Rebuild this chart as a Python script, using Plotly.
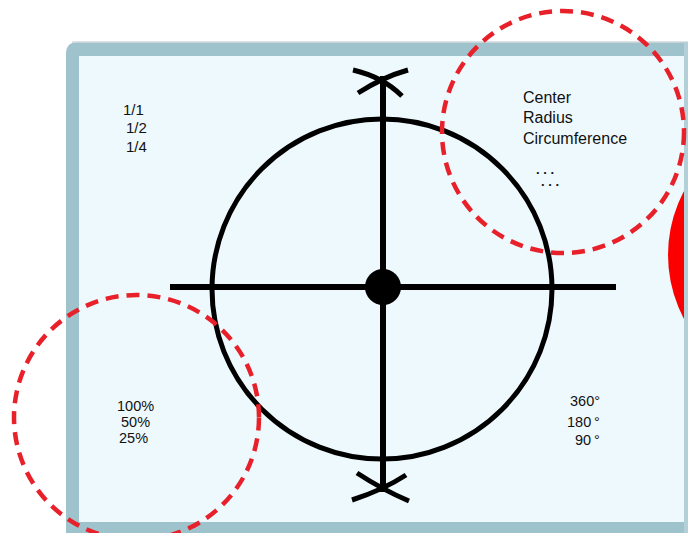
import plotly.graph_objects as go

W, H = 688, 533      # browser window

# ---- diagram content (labels) ----
frac_labels = ["1/1", "1/2", "1/4"]
pct_labels = ["100%", "50%", "25%"]
deg_labels = ["360°", "180\u2009°", "90\u2009°"]
term_labels = ["Center", "Radius", "Circumference"]
dots_labels = ["<b>. . .</b>", "<b>. . .</b>"]

# ---- geometry in page units (axis units = pixels, y down) ----
main_circle = (382, 289, 170)          # cx, cy, r
dash_circles = [(563, 132, 121), (136.5, 417.5, 122.5)]
red_disc = (804, 255, 136)
h_axis_x = [170, 616]
h_axis_y = [287, 287]
v_axis_x = [383, 383]
v_axis_y = [76, 492]
center_dot = (383, 287, 18)
top_x_arms = [[(353, 70), (383, 77), (402, 96)], [(408, 70), (383, 77), (358, 93)]]
bot_x_arms = [[(357, 473), (383, 490), (409, 501)], [(406, 475), (383, 490), (352, 500)]]

frac_pos = [(133, 109), (136, 127.5), (136, 146)]
pct_pos = [(135.5, 405.5), (135, 422), (133, 437.5)]
deg_pos_right = [(602, 400.5), (602, 422), (602, 440)]
term_pos_left = [(521, 97.5), (521, 117.5), (521, 138)]
dots_pos = [(545, 169), (550, 181)]

FONT = "Arial, Liberation Sans, sans-serif"
RED = "#e8202a"

fig = go.Figure()
fig.add_trace(go.Scatter(x=[0, W], y=[0, H], mode="markers",
                         marker=dict(opacity=0), hoverinfo="skip"))

shapes = []
# panel border and fill
shapes.append(dict(type="path", path="M 66,54 Q 66,42 78,42 L 720,42 L 720,560 L 66,560 Z",
                   fillcolor="#9ec3cd", line=dict(width=0)))
shapes.append(dict(type="line", x0=72, y0=42, x1=690, y1=42, line=dict(color="#d3d9db", width=1.5)))
shapes.append(dict(type="rect", x0=79, y0=56, x1=684, y1=522,
                   fillcolor="#eef9fd", line=dict(width=0)))
# red disc on the right
cx, cy, r = red_disc
shapes.append(dict(type="circle", x0=cx - r, y0=cy - r, x1=cx + r, y1=cy + r,
                   fillcolor="#fb0000", line=dict(width=0)))
shapes.append(dict(type="rect", x0=684, y0=42, x1=720, y1=560,
                   fillcolor="#b3d0d8", line=dict(width=0)))
# main circle
cx, cy, r = main_circle
shapes.append(dict(type="circle", x0=cx - r, y0=cy - r, x1=cx + r, y1=cy + r,
                   line=dict(color="black", width=5)))
# axes
shapes.append(dict(type="line", x0=h_axis_x[0], y0=h_axis_y[0], x1=h_axis_x[1], y1=h_axis_y[1],
                   line=dict(color="black", width=6)))
shapes.append(dict(type="line", x0=v_axis_x[0], y0=v_axis_y[0], x1=v_axis_x[1], y1=v_axis_y[1],
                   line=dict(color="black", width=6)))
# arrow "X" ends
for arm in top_x_arms + bot_x_arms:
    (x0, y0), (xm, ym), (x1, y1) = arm
    shapes.append(dict(type="path", path=f"M {x0},{y0} Q {xm},{ym} {x1},{y1}",
                       line=dict(color="black", width=5)))
# center dot
cx, cy, r = center_dot
shapes.append(dict(type="circle", x0=cx - r, y0=cy - r, x1=cx + r, y1=cy + r,
                   fillcolor="black", line=dict(width=0)))
# dashed red circles
for cx, cy, r in dash_circles:
    shapes.append(dict(type="circle", x0=cx - r, y0=cy - r, x1=cx + r, y1=cy + r,
                       line=dict(color=RED, width=4.5, dash="13px,8px")))

for s in shapes:
    s.update(xref="x", yref="y", layer="above")

annotations = []
def add_text(txt, x, y, xanchor="center", size=15):
    annotations.append(dict(text=txt, x=x, y=y, xref="x", yref="y", showarrow=False,
                            xanchor=xanchor, yanchor="middle",
                            font=dict(family=FONT, size=size, color="#111111")))

for t, (x, y) in zip(frac_labels, frac_pos):
    add_text(t, x, y)
for t, (x, y) in zip(pct_labels, pct_pos):
    add_text(t, x, y, size=14.5)
for t, (x, y) in zip(deg_labels, deg_pos_right):
    add_text(t, x, y, xanchor="right", size=14.5)
for t, (x, y) in zip(term_labels, term_pos_left):
    add_text(t, x, y, xanchor="left", size=16)
for t, (x, y) in zip(dots_labels, dots_pos):
    add_text(t, x, y, size=13)

fig.update_layout(
    width=W, height=H, margin=dict(l=0, r=0, t=0, b=0),
    paper_bgcolor="white", plot_bgcolor="white", showlegend=False,
    xaxis=dict(range=[0, W], visible=False, fixedrange=True),
    yaxis=dict(range=[H, 0], visible=False, fixedrange=True),
    shapes=shapes, annotations=annotations,
)

fig.write_html(
    "out.html",
    config={"displayModeBar": False},
    post_script="document.body.style.margin='0';document.body.style.overflow='hidden';",
)
